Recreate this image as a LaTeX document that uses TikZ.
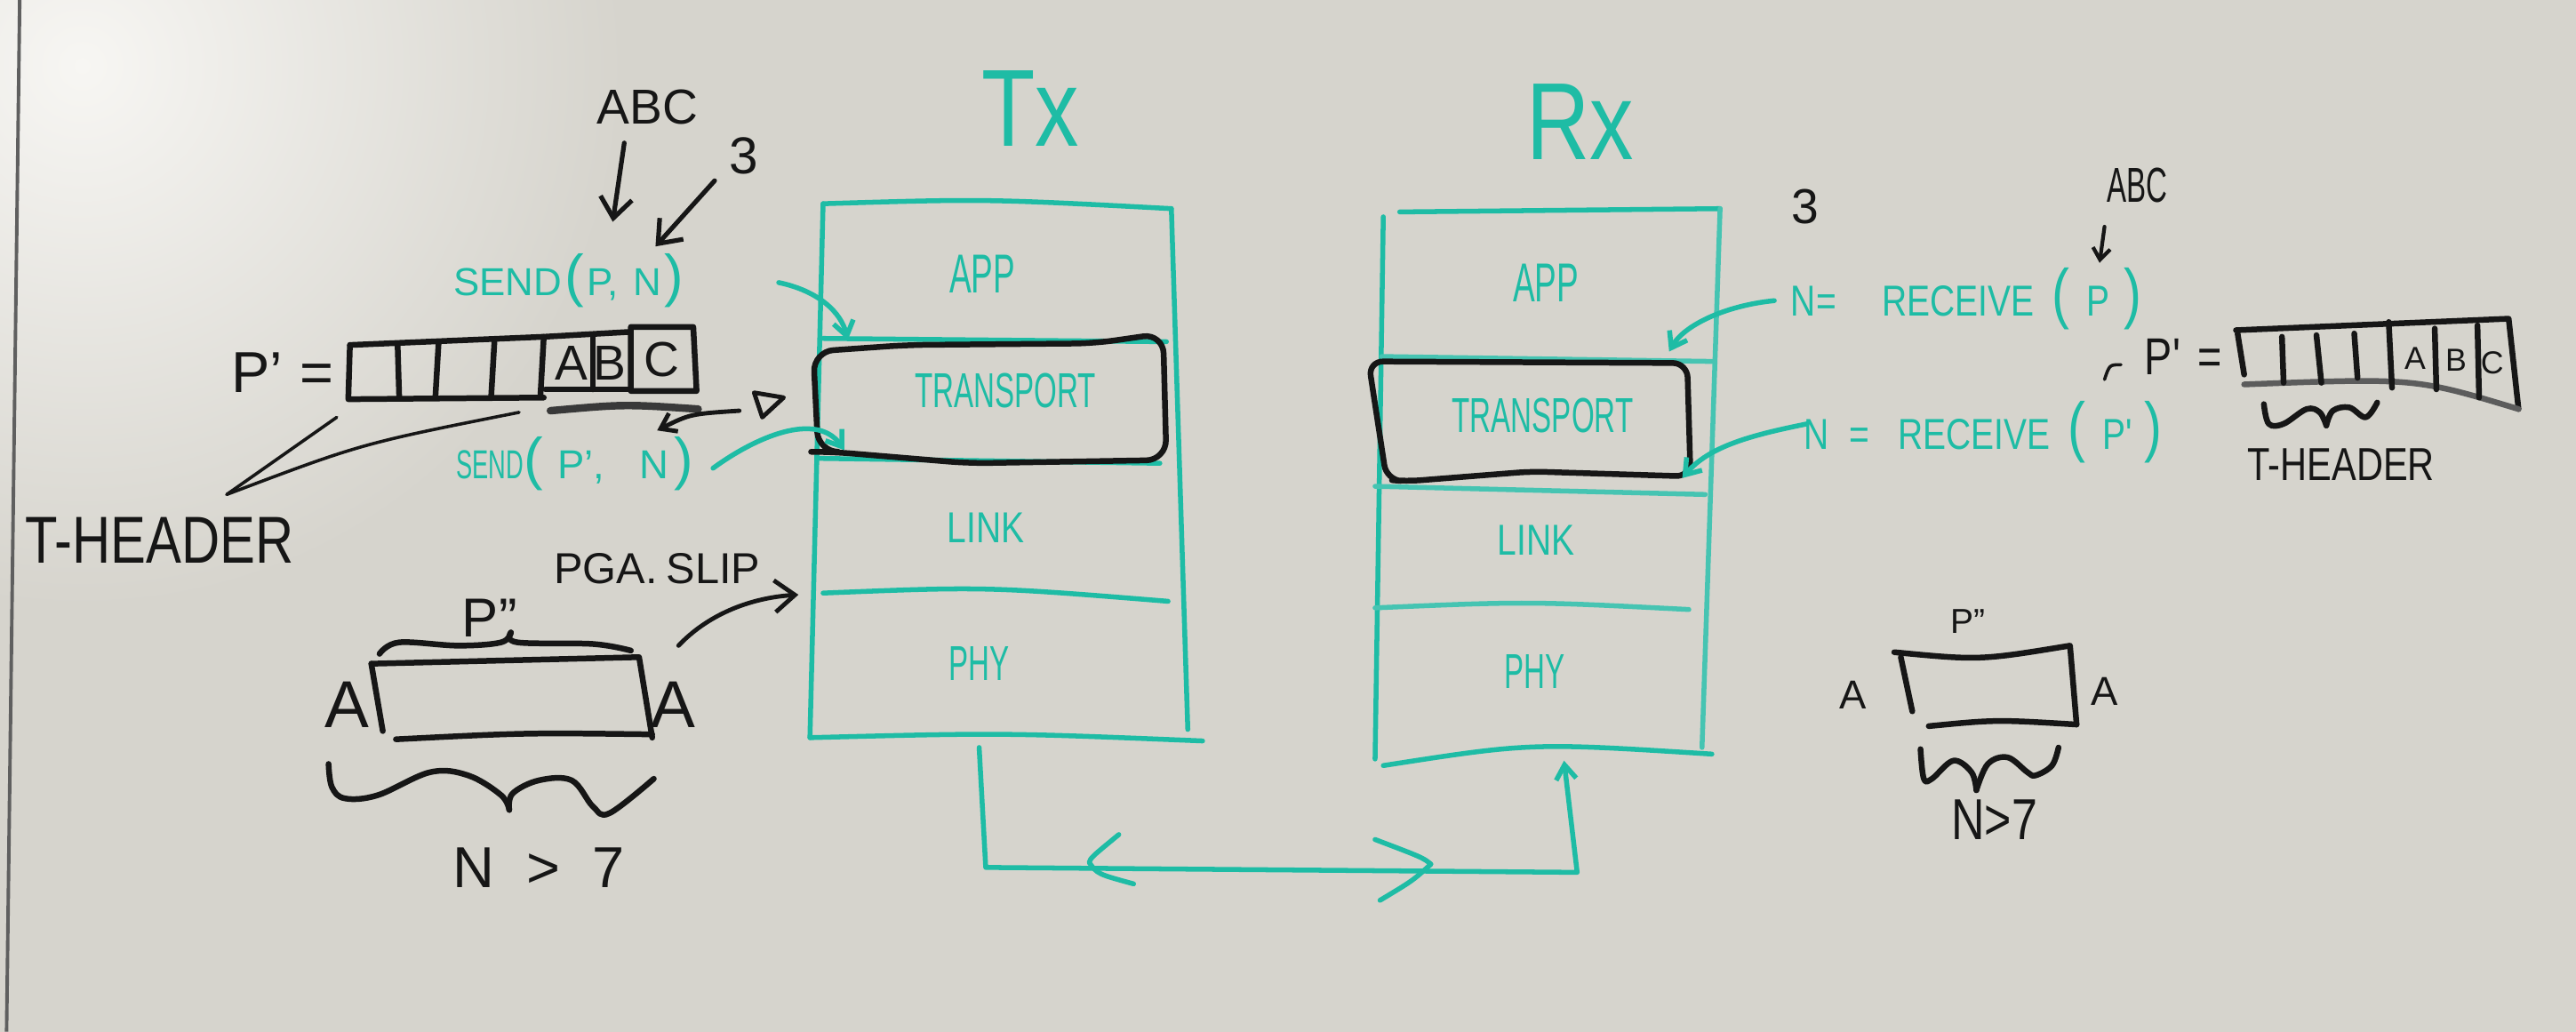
\documentclass[tikz,border=0pt]{standalone}
\usepackage{fontspec}
\setmainfont{Liberation Sans}
\newfontfamily\hn{Liberation Sans}[FakeStretch=0.6]
\newfontfamily\hm{Liberation Sans}[FakeStretch=0.8]
\usetikzlibrary{arrows.meta}
\definecolor{board}{RGB}{214,212,205}
\definecolor{glare}{RGB}{247,246,243}
\definecolor{marker}{RGB}{30,188,165}
\definecolor{markerb}{RGB}{70,196,178}
\definecolor{ink}{RGB}{22,22,22}
\definecolor{frame}{RGB}{95,95,95}
\newcommand\hsz[1]{\fontsize{#1}{#1}\selectfont}
\begin{document}
\begin{tikzpicture}[x=0.02cm,y=-0.02cm,
  tl/.style={draw=marker,line width=1.7pt,line cap=round,line join=round},
  tlb/.style={draw=markerb,line width=1.7pt,line cap=round,line join=round},
  bk/.style={draw=ink,line width=2pt,line cap=round,line join=round},
  bkt/.style={draw=ink,line width=1.1pt,line cap=round,line join=round},
  barb/.style={-{Straight Barb[length=7pt,width=11pt]}},
  sbarb/.style={-{Straight Barb[length=5pt,width=7pt]}},
  tt/.style={text=marker,inner sep=0pt},
  bt/.style={text=ink,inner sep=0pt},
]
\useasboundingbox (0,0) rectangle (1568,628);
\clip (0,0) rectangle (1568,628);
\fill[board] (0,0) rectangle (1568,628);
\shade[inner color=glare, outer color=board] (50,40) circle (330);
\draw[frame,line width=1.2pt] (12,0) -- (4,628);

% ---------------- Tx stack ----------------
\node[tt,font=\hm\hsz{38}] (tx) at (627,66) {Tx};
\draw[tl] (501,124) .. controls (600,121) .. (713,127);
\draw[tl] (501,124) -- (493,449);
\draw[tl] (713,127) -- (723,444);
\draw[tl] (493,449) .. controls (610,446) .. (732,451);
\draw[tl] (501,206) -- (710,208);
\draw[tl] (498,279) -- (706,282);
\draw[tl] (501,361) .. controls (600,357) .. (711,366);
\node[tt,font=\hn\hsz{19}] (txapp) at (598,167) {APP};
\node[tt,font=\hn\hsz{17}] (txtrans) at (612,238) {TRANSPORT};
\node[tt,font=\hm\hsz{15}] (txlink) at (600,321) {LINK};
\node[tt,font=\hn\hsz{17}] (txphy) at (596,404) {PHY};
\draw[bk,rounded corners=7pt] (495,214) -- (552,210) -- (666,209) -- (708,203) -- (710,280) -- (590,282) -- (506,275) -- (498,275) -- cycle;

% ---------------- Rx stack ----------------
\node[tt,font=\hm\hsz{38}] (rx) at (962,74) {Rx};
\draw[tl] (852,129) -- (1047,127);
\draw[tl] (842,132) -- (837,462);
\draw[tlb] (1047,127) -- (1036,455);
\draw[tl] (842,466) .. controls (932,452) .. (1042,459);
\draw[tlb] (841,217) -- (1042,220);
\draw[tlb] (837,296) -- (1038,301);
\draw[tlb] (837,370) .. controls (930,366) .. (1028,371);
\node[tt,font=\hn\hsz{19}] (rxapp) at (941,172) {APP};
\node[tt,font=\hn\hsz{17}] (rxtrans) at (939,253) {TRANSPORT};
\node[tt,font=\hm\hsz{15}] (rxlink) at (935,329) {LINK};
\node[tt,font=\hn\hsz{17}] (rxphy) at (934,409) {PHY};
\draw[bk,rounded corners=5pt] (833,220) -- (1027,221) -- (1029,290) -- (932,287) -- (856,293) -- (844,292) -- cycle;

% ---------------- physical link ----------------
\coordinate (txout) at (596,455);
\coordinate (rxin) at (952,463);
\draw[tl,sbarb] (txout) -- (600,528) -- (960,531) -- (rxin);
\draw[tl] (681,508) .. controls (664,522) .. (663,525) .. controls (668,532) .. (690,538);
\draw[tl] (837,511) .. controls (866,522) .. (871,526) .. controls (860,536) .. (840,548);

% ---------------- left: send side ----------------
\node[bt,font=\hsz{17}] (abcL) at (394,65) {ABC};
\node[bt,font=\hsz{18}] (threeL) at (453,95) {3};
\node[tt,font=\hsz{13.5}] (send1) at (346,171) {SEND\hspace{1pt}{\hsz{20}(}\hspace{1pt}P,\hspace{5pt}N\hspace{1pt}{\hsz{20})}};
\node[tt,font=\hsz{14}] (send2) at (350,282) {{\hn SEND}{\hsz{20}(}\hspace{5pt}P',\hspace{12pt}N\hspace{2pt}{\hsz{20})}};
\coordinate (pin) at (373,135);
\coordinate (nin) at (399,150);
\draw[bk,line width=1.6pt,barb] (380,87) -- (pin);
\draw[bk,line width=1.6pt,barb] (435,110) -- (nin);

\coordinate (s1out) at (474,172);
\coordinate (txtop) at (516,207);
\draw[tl,sbarb] (s1out) .. controls (498,177) and (512,190) .. (txtop);
\coordinate (s2out) at (434,285);
\coordinate (txbot) at (514,274);
\draw[tl,sbarb] (s2out) .. controls (460,266) and (497,250) .. (txbot);

% packet P'
\node[bt,font=\hsz{20}] (pprimeL) at (172,227) {P'\hspace{6pt}=};
\draw[bk] (213,210) -- (331,205) -- (384,202);
\draw[bk] (213,210) -- (212,243) -- (331,242);
\draw[bk] (242,209) -- (243,242);
\draw[bk] (267,208) -- (265,242);
\draw[bk] (301,207) -- (299,241);
\draw[bk] (331,205) -- (329,240);
\draw[bk] (332,237) -- (384,237);
\draw[bk] (361,204) -- (361,237);
\draw[bk] (384,199) -- (422,199) -- (424,238) -- (384,238) -- cycle;
\node[bt,font=\hsz{17}] (cA) at (348,221) {A};
\node[bt,font=\hsz{17}] (cB) at (371,221) {B};
\node[bt,font=\hsz{17}] (cC) at (403,219) {C};
\draw[draw=ink!85,line width=2.6pt,line cap=round] (335,250) .. controls (380,246) .. (425,249);

\node[bt,font=\hm\hsz{23}] (theadL) at (97,329) {T-HEADER};
\coordinate (tha) at (205,254);
\coordinate (thb) at (316,251);
\draw[bkt] (138,301) -- (tha);
\draw[bkt] (138,301) .. controls (220,270) .. (thb);

\draw[bk,line width=1.5pt] (459,239) -- (477,242) -- (464,254) -- cycle;
\coordinate (arrs) at (450,250);
\coordinate (arre) at (400,262);
\draw[bk,line width=1.5pt,sbarb] (arrs) .. controls (420,252) .. (arre);

% P'' frame (SLIP)
\node[bt,font=\hsz{15}] (slip) at (400,346) {PGA.\hspace{3pt}SLIP};
\coordinate (slipout) at (413,393);
\coordinate (phyin) at (486,362);
\draw[bk,line width=1.5pt,barb] (slipout) .. controls (430,375) and (455,364) .. (phyin);
\node[bt,font=\hsz{19}] (ppL) at (298,376) {P''};
\draw[bk] plot[smooth,tension=0.6] coordinates {(231,398) (243,391) (279,393) (305,391) (311,385)};
\draw[bk] plot[smooth,tension=0.6] coordinates {(311,385) (315,391) (361,392) (384,396)};
\draw[bk] (226,404) -- (389,400) -- (397,449);
\draw[bk] (226,404) -- (233,445);
\draw[bk] (241,450) .. controls (320,446) .. (397,447);
\node[bt,font=\hsz{23}] (aL1) at (211,429) {A};
\node[bt,font=\hsz{23}] (aL2) at (410,429) {A};
\draw[bk] plot[smooth,tension=0.6] coordinates {(200,465) (202,479) (210,486) (230,484) (262,470) (285,472) (305,484) (310,493)};
\draw[bk] plot[smooth,tension=0.6] coordinates {(310,493) (312,483) (328,475) (348,475) (361,491) (371,495) (398,474)};
\node[bt,font=\hsz{20}] (n7L) at (328,528) {N\ \ >\ \ 7};

% ---------------- right: receive side ----------------
\node[bt,font=\hsz{17}] (threeR) at (1099,126) {3};
\node[bt,font=\hn\hsz{17}] (abcR) at (1301,113) {ABC};
\coordinate (pR) at (1278,160);
\draw[bk,line width=1.3pt,-{Straight Barb[length=4pt,width=6pt]}] (1281,138) -- (pR);
\node[tt,font=\hm\hsz{15}] (recv1) at (1197,182) {N=\hspace{16pt}RECEIVE\hspace{6pt}{\hsz{23}(}\hspace{6pt}P\hspace{5pt}{\hsz{23})}};
\node[tt,font=\hm\hsz{15}] (recv2) at (1207,263) {N\hspace{7pt}=\hspace{10pt}RECEIVE\hspace{6pt}{\hsz{23}(}\hspace{6pt}P'\hspace{4pt}{\hsz{23})}};
\coordinate (r1out) at (1080,183);
\coordinate (rxtop) at (1016,214);
\draw[tl,sbarb] (r1out) .. controls (1050,186) and (1025,198) .. (rxtop);
\coordinate (r2out) at (1100,258);
\coordinate (rxbot) at (1024,291);
\draw[tl,sbarb] (r2out) .. controls (1065,265) and (1040,272) .. (rxbot);
\draw[bkt] (1291,222) .. controls (1284,222) .. (1281,231);

\node[bt,font=\hm\hsz{18}] (pprimeR) at (1329,217) {P'\hspace{6pt}=};
\draw[bk] (1361,201) -- (1527,194) -- (1533,249);
\draw[bk] (1362,203) -- (1366,228);
\draw[draw=ink!70,line width=2pt,line cap=round] (1366,234) .. controls (1470,230) .. (1533,249);
\draw[bk] (1389,205) -- (1390,233);
\draw[bk] (1410,204) -- (1413,233);
\draw[bk] (1433,203) -- (1435,230);
\draw[bk] (1454,196) -- (1456,236);
\draw[bk] (1482,200) -- (1483,237);
\draw[bk] (1508,198) -- (1509,242);
\node[bt,font=\hsz{11}] (rA) at (1470,218) {A};
\node[bt,font=\hsz{11}] (rB) at (1495,219) {B};
\node[bt,font=\hsz{11}] (rC) at (1517,221) {C};
\draw[bk] plot[smooth,tension=0.6] coordinates {(1378,246) (1381,258) (1390,258) (1404,249) (1412,251) (1416,259)};
\draw[bk] plot[smooth,tension=0.6] coordinates {(1416,259) (1420,250) (1430,248) (1440,254) (1447,245)};
\node[bt,font=\hm\hsz{16}] (theadR) at (1425,283) {T-HEADER};

% P'' frame right
\node[bt,font=\hsz{12}] (ppR) at (1198,378) {P''};
\draw[bk] (1153,397) .. controls (1205,402) .. (1260,393) -- (1264,441);
\draw[bk] (1264,441) .. controls (1215,438) .. (1174,442);
\draw[bk] (1157,400) -- (1164,433);
\node[bt,font=\hsz{14}] (aR1) at (1128,423) {A};
\node[bt,font=\hsz{14}] (aR2) at (1281,421) {A};
\draw[bk] plot[smooth,tension=0.6] coordinates {(1169,456) (1171,474) (1176,474) (1189,463) (1200,470) (1203,481)};
\draw[bk] plot[smooth,tension=0.6] coordinates {(1203,481) (1210,465) (1222,461) (1234,470) (1239,472) (1249,466) (1253,455)};
\node[bt,font=\hm\hsz{20}] (n7R) at (1214,499) {N>7};
\end{tikzpicture}
\end{document}
